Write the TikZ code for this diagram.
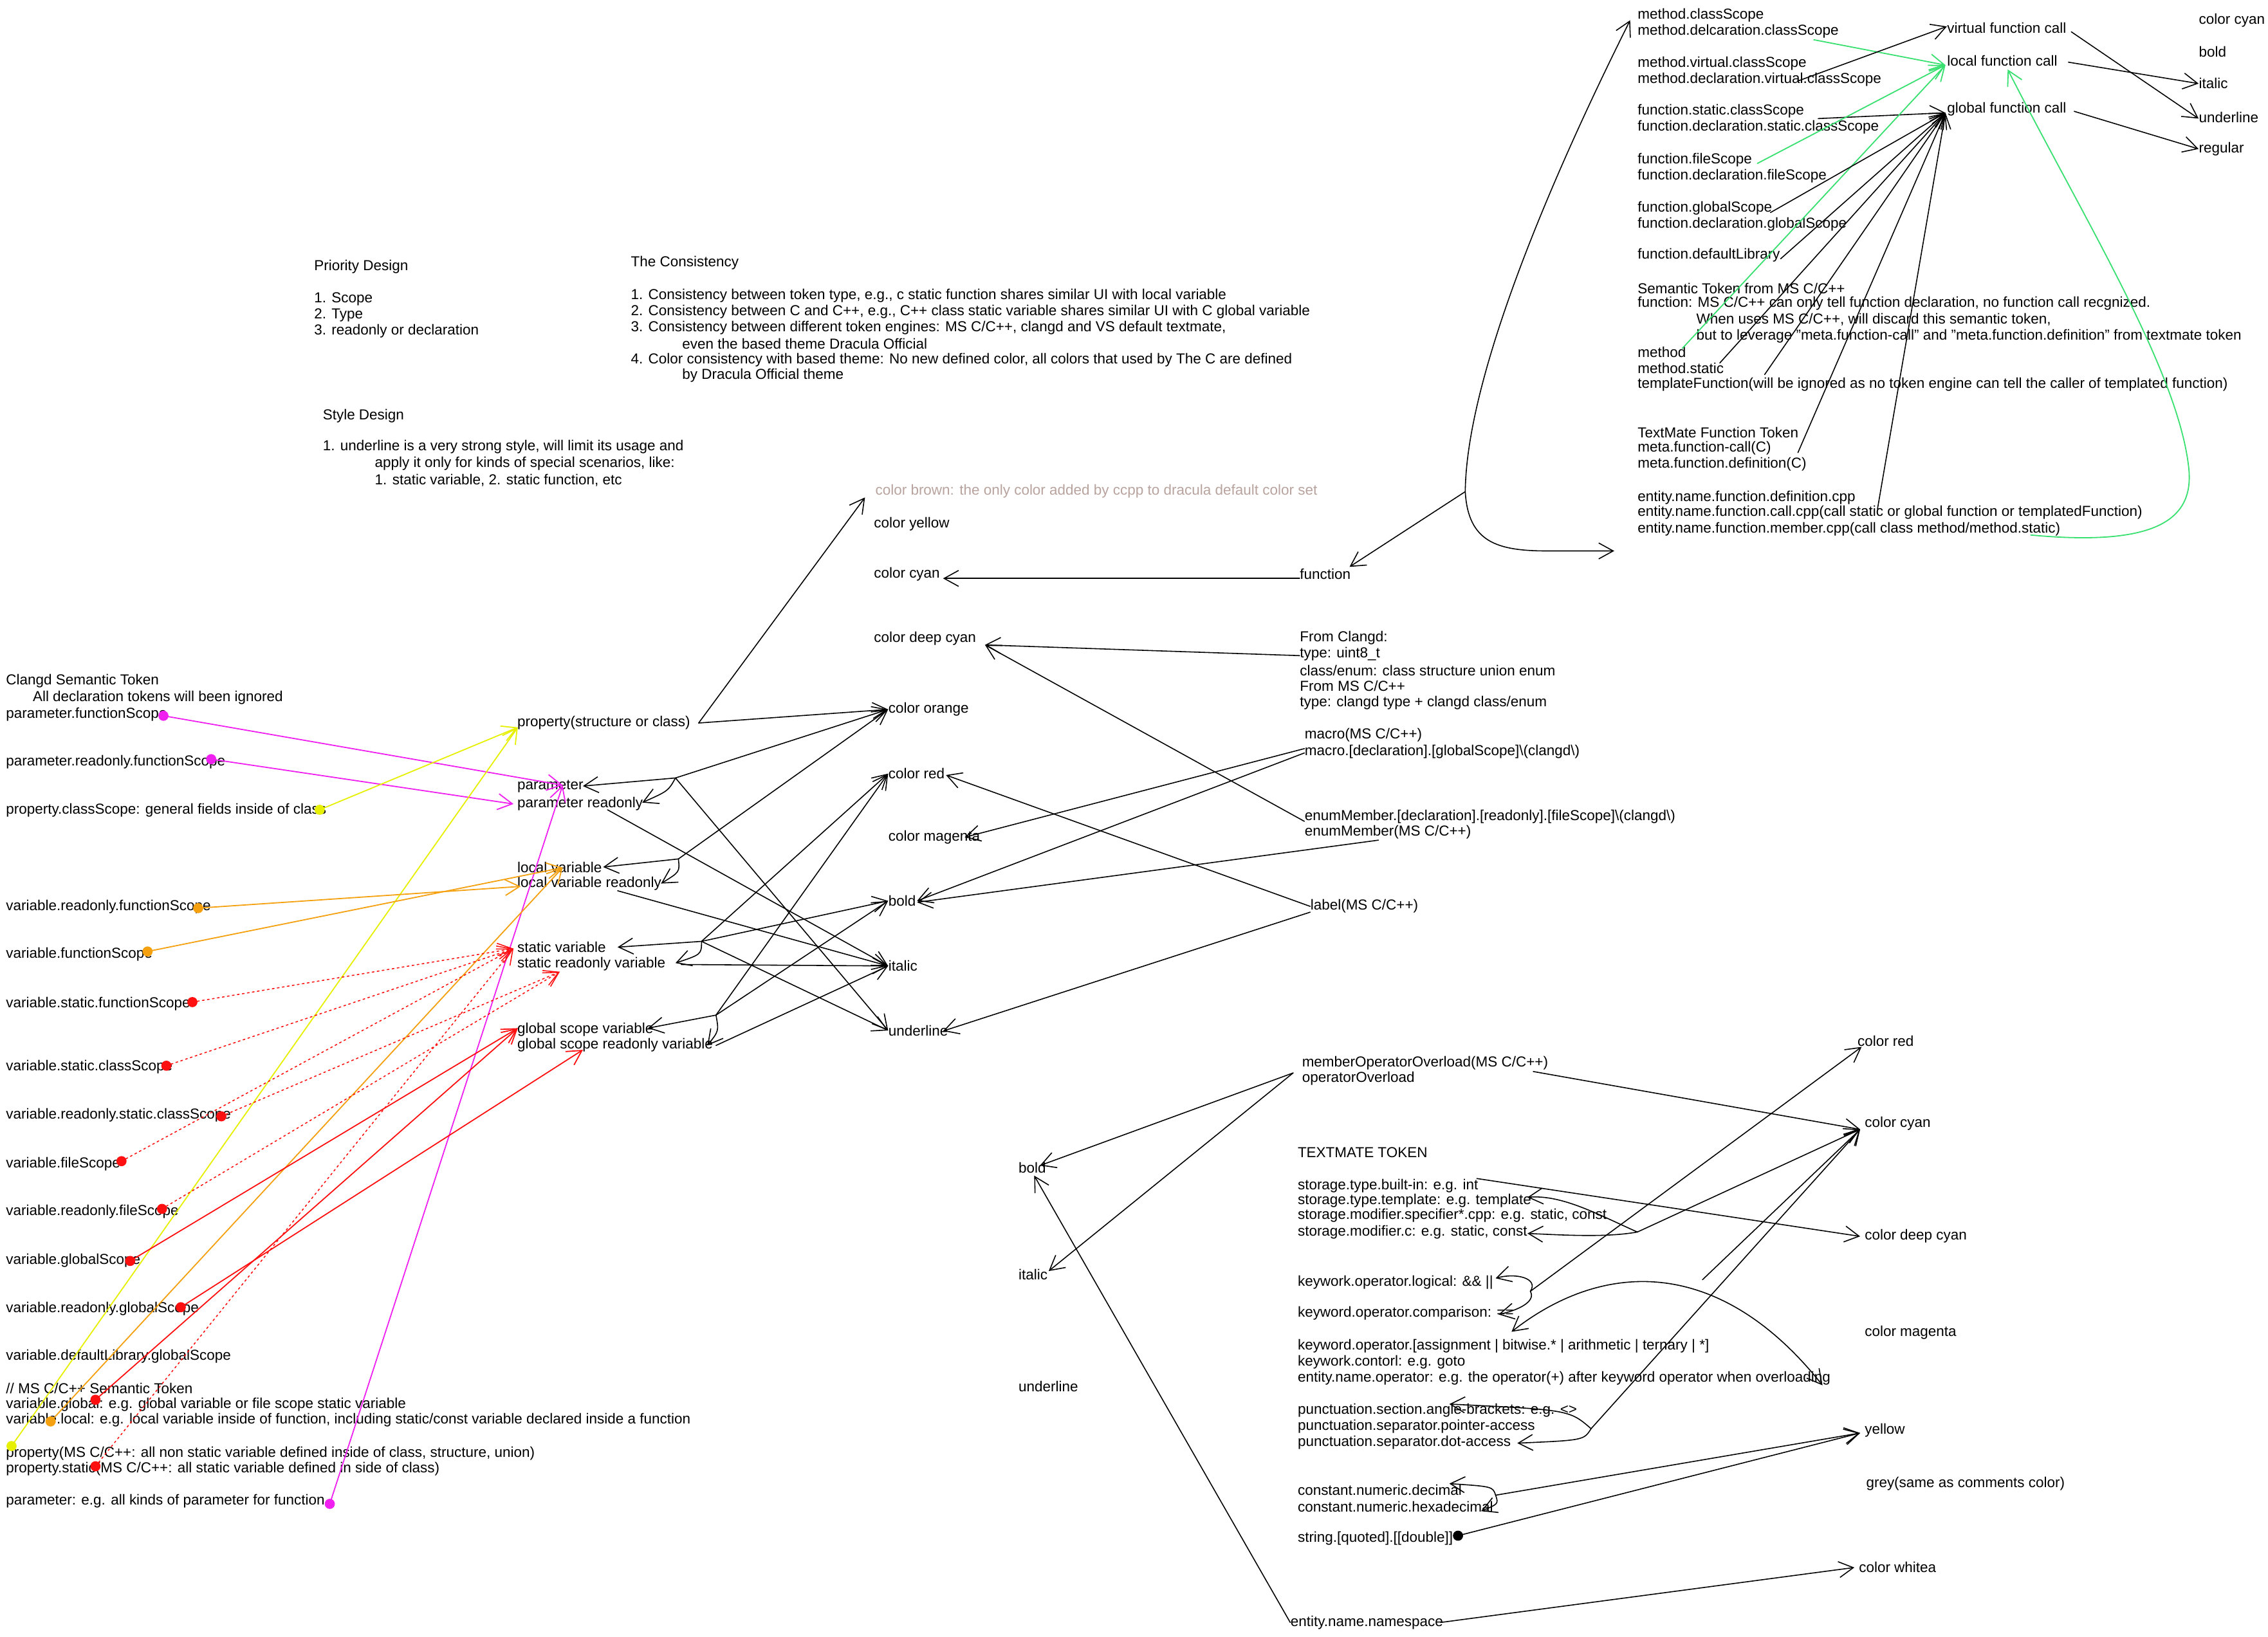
\documentclass[tikz,border=0pt]{standalone}
\usepackage{fontspec}
\setmainfont{Liberation Sans}
\usetikzlibrary{arrows.meta}
\definecolor{xmag}{HTML}{F020F0}
\definecolor{xyel}{HTML}{E6F000}
\definecolor{xorg}{HTML}{F5A00F}
\definecolor{xred}{HTML}{FF1010}
\definecolor{xgrn}{HTML}{38E070}
\definecolor{xbrn}{HTML}{B8A39E}
\tikzset{
  txt/.style={anchor=west, inner sep=0pt, font=\fontsize{10}{11.1}\selectfont},
  ln/.style={line width=0.7pt, line cap=round},
  arr/.style={ln, -{Straight Barb[length=10pt,width=11pt]}},
  arrb/.style={ln, {Straight Barb[length=10pt,width=11pt]}-{Straight Barb[length=10pt,width=11pt]}},
  carr/.style={arr, draw=#1, line width=0.8pt},
  rdot/.style={arr, draw=xred, dash pattern=on 1.3pt off 2.2pt},
  dotn/.style={circle, inner sep=0pt, minimum size=7pt, fill=#1},
}
\begin{document}
\begin{tikzpicture}[x=1pt,y=-1pt]
\fill[white] (0,0) rectangle (1568,1132);
\useasboundingbox (0,0) rectangle (1568,1132);

% ---------------- top-left notes
\node[txt] (pd)  at (217,184.5) {Priority Design};
\node[txt] (pd1) at (217,207) {1. Scope};
\node[txt] (pd2) at (217,218) {2. Type};
\node[txt] (pd3) at (217,229) {3. readonly or declaration};
\node[txt] (tc)  at (436,182) {The Consistency};
\node[txt] (tc1) at (436,204.6) {1. Consistency between token type, e.g., c static function shares similar UI with local variable};
\node[txt] (tc2) at (436,215.5) {2. Consistency between C and C++, e.g., C++ class static variable shares similar UI with C global variable};
\node[txt] (tc3) at (436,226.6) {3. Consistency between different token engines: MS C/C++, clangd and VS default textmate,};
\node[txt] (tc4) at (471.5,237.6) {even the based theme Dracula Official};
\node[txt] (tc5) at (436,248.8) {4. Color consistency with based theme: No new defined color, all colors that used by The C are defined};
\node[txt] (tc6) at (471.5,259.8) {by Dracula Official theme};
\node[txt] (sd)  at (223,287.6) {Style Design};
\node[txt] (sd1) at (223,309) {1. underline is a very strong style, will limit its usage and};
\node[txt] (sd2) at (259,320.6) {apply it only for kinds of special scenarios, like:};
\node[txt] (sd3) at (259,332) {1. static variable, 2. static function, etc};
\node[txt, text=xbrn] (brown) at (605,339.5) {color brown: the only color added by ccpp to dracula default color set};

% ---------------- colour column
\node[txt] (cyel)    at (604,362.5) {color yellow};
\node[txt] (ccyan)   at (604,397) {color cyan};
\node[txt] (cdcyan)  at (604,441.5) {color deep cyan};
\node[txt] (corange) at (614,490.6) {color orange};
\node[txt] (cred)    at (614,535) {color red};
\node[txt] (cmag)    at (614,579) {color magenta};
\node[txt] (cbold)   at (614,623) {bold};
\node[txt] (citalic) at (614,668) {italic};
\node[txt] (cunder)  at (614,712.6) {underline};

% ---------------- middle categories
\node[txt] (prop)  at (357.5,500) {property(structure or class)};
\node[txt] (par)   at (357.5,543.6) {parameter};
\node[txt] (parro) at (357.5,555.7) {parameter readonly};
\node[txt] (lv)    at (357.5,599.6) {local variable};
\node[txt] (lvro)  at (357.5,611) {local variable readonly};
\node[txt] (sv)    at (357.5,655) {static variable};
\node[txt] (svro)  at (357.5,666.8) {static readonly variable};
\node[txt] (gv)    at (357.5,711.8) {global scope variable};
\node[txt] (gvro)  at (357.5,722.5) {global scope readonly variable};

% ---------------- left tokens
\node[txt] (cl0) at (4,471) {Clangd Semantic Token};
\node[txt] (cl1) at (22.5,482.6) {All declaration tokens will been ignored};
\node[txt] (l1)  at (4,494) {parameter.functionScope};
\node[txt] (l2)  at (4,527) {parameter.readonly.functionScope};
\node[txt] (l3)  at (4,560.5) {property.classScope: general fields inside of class};
\node[txt] (l4)  at (4,627) {variable.readonly.functionScope};
\node[txt] (l5)  at (4,660) {variable.functionScope};
\node[txt] (l6)  at (4,694) {variable.static.functionScope};
\node[txt] (l7)  at (4,737.6) {variable.static.classScope};
\node[txt] (l8)  at (4,771) {variable.readonly.static.classScope};
\node[txt] (l9)  at (4,805) {variable.fileScope};
\node[txt] (l10) at (4,838) {variable.readonly.fileScope};
\node[txt] (l11) at (4,871.5) {variable.globalScope};
\node[txt] (l12) at (4,905) {variable.readonly.globalScope};
\node[txt] (l13) at (4,938) {variable.defaultLibrary.globalScope};
\node[txt] (l14) at (4,960) {// MS C/C++ Semantic Token};
\node[txt] (l15) at (4,971.5) {variable.global: e.g. global variable or file scope static variable};
\node[txt] (l16) at (4,982) {variable.local: e.g. local variable inside of function, including static/const variable declared inside a function};
\node[txt] (l17) at (4,1005) {property(MS C/C++: all non static variable defined inside of class, structure, union)};
\node[txt] (l18) at (4,1016) {property.static(MS C/C++: all static variable defined in side of class)};
\node[txt] (l19) at (4,1038) {parameter: e.g. all kinds of parameter for function};

% ---------------- right-middle tokens
\node[txt] (fn)  at (898.5,397) {function};
\node[txt] (fc1) at (898.5,441) {From Clangd:};
\node[txt] (fc2) at (898.5,452.4) {type: uint8\_t};
\node[txt] (fc3) at (898.5,463.7) {class/enum: class structure union enum};
\node[txt] (fc4) at (898.5,474.5) {From MS C/C++};
\node[txt] (fc5) at (898.5,486) {type: clangd type + clangd class/enum};
\node[txt] (mac1) at (901.8,508.4) {macro(MS C/C++)};
\node[txt] (mac2) at (901.8,519.7) {macro.[declaration].[globalScope]\textbackslash(clangd\textbackslash)};
\node[txt] (en1) at (901.8,565) {enumMember.[declaration].[readonly].[fileScope]\textbackslash(clangd\textbackslash)};
\node[txt] (en2) at (901.8,575.6) {enumMember(MS C/C++)};
\node[txt] (lab) at (905.8,626.8) {label(MS C/C++)};
\node[txt] (mo1) at (900,735) {memberOperatorOverload(MS C/C++)};
\node[txt] (mo2) at (900,746) {operatorOverload};

% ---------------- top-right function tokens
\node[txt] (rt1)  at (1132,10.4) {method.classScope};
\node[txt] (rt2)  at (1132,21.5) {method.delcaration.classScope};
\node[txt] (rt3)  at (1132,43.8) {method.virtual.classScope};
\node[txt] (rt4)  at (1132,54.9) {method.declaration.virtual.classScope};
\node[txt] (rt5)  at (1132,77) {function.static.classScope};
\node[txt] (rt6)  at (1132,88) {function.declaration.static.classScope};
\node[txt] (rt7)  at (1132,110.5) {function.fileScope};
\node[txt] (rt8)  at (1132,121.6) {function.declaration.fileScope};
\node[txt] (rt9)  at (1132,143.8) {function.globalScope};
\node[txt] (rt10) at (1132,155) {function.declaration.globalScope};
\node[txt] (rt11) at (1132,176.5) {function.defaultLibrary};
\node[txt] (rt12) at (1132,199.4) {Semantic Token from MS C/C++};
\node[txt] (rt13) at (1132,209.9) {function: MS C/C++ can only tell function declaration, no function call recgnized.};
\node[txt] (rt14) at (1172.6,221) {When uses MS C/C++, will discard this semantic token,};
\node[txt] (rt15) at (1172.6,232.5) {but to leverage "meta.function-call" and "meta.function.definition" from textmate token};
\node[txt] (rt16) at (1132,243.6) {method};
\node[txt] (rt17) at (1132,254.8) {method.static};
\node[txt] (rt18) at (1132,266) {templateFunction(will be ignored as no token engine can tell the caller of templated function)};
\node[txt] (rt19) at (1132,299.3) {TextMate Function Token};
\node[txt] (rt20) at (1132,310) {meta.function-call(C)};
\node[txt] (rt21) at (1132,321) {meta.function.definition(C)};
\node[txt] (rt22) at (1132,344) {entity.name.function.definition.cpp};
\node[txt] (rt23) at (1132,354.6) {entity.name.function.call.cpp(call static or global function or templatedFunction)};
\node[txt] (rt24) at (1132,366) {entity.name.function.member.cpp(call class method/method.static)};
\node[txt] (vfc) at (1346,19.3) {virtual function call};
\node[txt] (lfc) at (1346,42) {local function call};
\node[txt] (gfc) at (1346,75.6) {global function call};
\node[txt] (r1) at (1520,14) {color cyan};
\node[txt] (r2) at (1520,35.6) {bold};
\node[txt] (r3) at (1520,57.8) {italic};
\node[txt] (r4) at (1520,81) {underline};
\node[txt] (r5) at (1520,103) {regular};

% ---------------- bottom textmate tokens
\node[txt] (bbold)  at (704,807.5) {bold};
\node[txt] (bital)  at (704,881.6) {italic};
\node[txt] (bunder) at (704,958.6) {underline};
\node[txt] (tt) at (897,797) {TEXTMATE TOKEN};
\node[txt] (s1) at (897,820) {storage.type.built-in: e.g. int};
\node[txt] (s2) at (897,830.5) {storage.type.template: e.g. template};
\node[txt] (s3) at (897,840.7) {storage.modifier.specifier*.cpp: e.g. static, const};
\node[txt] (s4) at (897,852) {storage.modifier.c: e.g. static, const};
\node[txt] (k1) at (897,886.7) {keywork.operator.logical: \&\& ||};
\node[txt] (k2) at (897,908) {keyword.operator.comparison: ==};
\node[txt] (k3) at (897,931) {keyword.operator.[assignment | bitwise.* | arithmetic | ternary | *]};
\node[txt] (k4) at (897,942) {keywork.contorl: e.g. goto};
\node[txt] (k5) at (897,953) {entity.name.operator: e.g. the operator(+) after keyword operator when overloading};
\node[txt] (p1) at (897,975.4) {punctuation.section.angle-brackets: e.g. <>};
\node[txt] (p2) at (897,986.6) {punctuation.separator.pointer-access};
\node[txt] (p3) at (897,997.7) {punctuation.separator.dot-access};
\node[txt] (n1) at (897,1030.6) {constant.numeric.decimal};
\node[txt] (n2) at (897,1042) {constant.numeric.hexadecimal};
\node[txt] (str) at (897,1064) {string.[quoted].[[double]]};
\node[txt] (ns) at (892,1122) {entity.name.namespace};
\node[txt] (bcred) at (1284,720) {color red};
\node[txt] (bccyan) at (1289,777) {color cyan};
\node[txt] (bcdc) at (1289,855) {color deep cyan};
\node[txt] (bcmag) at (1289,921.6) {color magenta};
\node[txt] (byel) at (1289,989) {yellow};
\node[txt] (bgrey) at (1290,1026) {grey(same as comments color)};
\node[txt] (bwhite) at (1285,1084) {color whitea};

% ---------------- dots
\node[dotn=xmag] (d1)  at (113,495) {};
\node[dotn=xmag] (d2)  at (146,525) {};
\node[dotn=xyel] (d3)  at (221,560) {};
\node[dotn=xorg] (d4)  at (137,628) {};
\node[dotn=xorg] (d5)  at (102,658) {};
\node[dotn=xred] (d6)  at (133,693) {};
\node[dotn=xred] (d7)  at (115,737) {};
\node[dotn=xred] (d8)  at (153,772) {};
\node[dotn=xred] (d9)  at (84,803) {};
\node[dotn=xred] (d10) at (112,836) {};
\node[dotn=xred] (d11) at (90,872) {};
\node[dotn=xred] (d12) at (125,904) {};
\node[dotn=xred] (d15) at (66,968) {};
\node[dotn=xorg] (d16) at (35,983) {};
\node[dotn=xyel] (d17) at (8,1000) {};
\node[dotn=xred] (d18) at (66,1014) {};
\node[dotn=xmag] (d19) at (228,1040) {};
\node[dotn=black] (dstr) at (1008,1062) {};

% ---------------- coordinates
\coordinate (tPar)  at (389,543);
\coordinate (tParR) at (355,556);
\coordinate (tProp) at (358,503);
\coordinate (tLvR)  at (360,613);
\coordinate (tLv)   at (389,600);
\coordinate (tSv)   at (355,656);
\coordinate (tSvR)  at (387,672);
\coordinate (tGv)   at (358,711);
\coordinate (tGvR)  at (403,726);
\coordinate (tYel)  at (598,344);
\coordinate (J1) at (467,538);
\coordinate (J2) at (469,594);
\coordinate (J3) at (485,651);
\coordinate (J4) at (495,702);
\coordinate (J5) at (1013,340);
\coordinate (J6) at (1132,852);
\coordinate (J7) at (1058,893);
\coordinate (J9) at (1100,988);
\coordinate (J10) at (1034,1034);
\coordinate (Jmo) at (894,742);
\coordinate (tMeth) at (1127,14);
\coordinate (tEnt) at (1116,381);
\coordinate (tDC) at (681,446);
\coordinate (tMag) at (667,579);
\coordinate (tG) at (1345,78);
\coordinate (tL) at (1345,45);
\coordinate (tC) at (1286,781);
\coordinate (tR) at (1287,724);
\coordinate (tY) at (1286,991);
\coordinate (tBB) at (715,813);

% ---------------- coloured connectors (left)
\draw[carr=xmag] (d1.center) -- (tPar);
\draw[carr=xmag] (d2.center) -- (tParR);
\draw[carr=xmag] (d19.center) -- (tPar);
\draw[carr=xyel] (d3.center) -- (tProp);
\draw[carr=xyel] (d17.center) -- (tProp);
\draw[carr=xorg] (d4.center) -- (tLvR);
\draw[carr=xorg] (d5.center) -- (tLv);
\draw[carr=xorg] (d16.center) -- (tLv);
\draw[rdot] (d6.center) -- (tSv);
\draw[rdot] (d7.center) -- (tSv);
\draw[rdot] (d8.center) -- (tSvR);
\draw[rdot] (d9.center) -- (tSv);
\draw[rdot] (d10.center) -- (tSvR);
\draw[rdot] (d18.center) -- (tSv);
\draw[carr=xred] (d11.center) -- (tGv);
\draw[carr=xred] (d15.center) -- (tGv);
\draw[carr=xred] (d12.center) -- (tGvR);

% ---------------- middle black cluster
\draw[arr] (483,500) -- (tYel);
\draw[arr] (483,500) -- (corange.west);
\draw[arr] (J1) -- (corange.west);
\draw[arr] (J1) -- (403,543.6);
\draw[arr] (J1) .. controls (462,547) .. (444,555);
\draw[arr] (J1) -- (cunder.west);
\draw[arr] (420,560) -- (citalic.west);
\draw[arr] (J2) -- (corange.west);
\draw[arr] (J2) -- (417,599.6);
\draw[arr] (J2) .. controls (470,603) .. (457,611);
\draw[arr] (427,616) -- (citalic.west);
\draw[arr] (J3) -- (cred.west);
\draw[arr] (J3) -- (cbold.west);
\draw[arr] (J3) -- (cunder.west);
\draw[arr] (J3) -- (427,655);
\draw[arr] (J3) .. controls (485,660) .. (467,666);
\draw[arr] (471,667) -- (citalic.west);
\draw[arr] (J4) -- (cred.west);
\draw[arr] (J4) -- (cbold.west);
\draw[arr] (J4) -- (448,711);
\draw[arr] (J4) .. controls (497,713) .. (489,723);
\draw[arr] (495,723) -- (citalic.west);

% ---------------- right-middle
\draw[arr] ([yshift=-3pt]fn.west) -- (652,400);
\draw[arr] (J5) -- (933,392);
\draw[arr] (J5) .. controls (1014,250) and (1088,92) .. (tMeth);
\draw[arr] (J5) .. controls (1015,375) and (1035,381) .. (1070,381) -- (tEnt);
\draw[arr] ([yshift=-1pt]fc2.west) -- (tDC);
\draw[arr] ([yshift=-3pt]en1.west) -- (tDC);
\draw[arr] ([yshift=2pt]mac2.west) -- (tMag);
\draw[arr] ([yshift=-1pt]mac2.west) -- (634,623);
\draw[arr] (953,581) -- (634,624);
\draw[arr] (lab.west) -- (654,536);
\draw[arr] ([yshift=-4pt]lab.west) -- (652,713);

% ---------------- top-right
\draw[carr=xgrn] (1254,27.5) -- (tL);
\draw[arr] (1243,56) -- ([yshift=1pt]vfc.west);
\draw[arr] (1257,82) -- (tG);
\draw[carr=xgrn] (1215,113) -- (tL);
\draw[carr=xgrn] (1163,241) -- (tL);
\draw[arr] (1224,147) -- (tG);
\draw[arr] (1231,179) -- (tG);
\draw[arr] (1189,251) -- (tG);
\draw[arr] (1220,259) -- (tG);
\draw[arr] (1243,313) -- (tG);
\draw[arr] (1298,352) -- (tG);
\draw[carr=xgrn] (1404,370) .. controls (1490,378) and (1518,360) .. (1513,322) .. controls (1505,255) and (1440,150) .. (1388,48);
\draw[arr] (1432,22) -- ([yshift=-1pt]r4.west);
\draw[arr] (1430,43) -- (r3.west);
\draw[arr] (1434,77) -- (r5.west);

% ---------------- bottom
\draw[arr] (Jmo) -- (719,806);
\draw[arr] (Jmo) -- (725,879);
\draw[arr] (1060,741) -- (tC);
\draw[arr] (1021,815) -- ([xshift=-3pt]bcdc.west);
\draw[arr] (J6) -- (tC);
\draw[arr] (J6) .. controls (1105,840) and (1080,826) .. (1056,828);
\draw[arr] (J6) .. controls (1110,856) and (1080,854) .. (1056,853);
\draw[arr] (J7) -- (tR);
\draw[arr] (J7) .. controls (1064,884) and (1048,880) .. (1034,884);
\draw[arr] (J7) .. controls (1062,900) and (1050,906) .. (1036,909);
\draw[arrb] (1045,921) .. controls (1110,870) and (1190,870) .. (1260,958);
\draw[arr] (1177,885) -- (tC);
\draw[arr] (J9) -- (tC);
\draw[arr] (J9) .. controls (1085,975) .. (1002,971);
\draw[arr] (J9) .. controls (1095,996) .. (1049,998);
\draw[arr] (J10) -- (tY);
\draw[arr] (J10) .. controls (1032,1028) .. (1002,1026);
\draw[arr] (J10) .. controls (1036,1040) .. (1024,1045);
\draw[arr] (dstr.center) -- (tY);
\draw[arr] (996,1122) -- ([xshift=-3pt]bwhite.west);
\draw[arr] (ns.west) -- (tBB);
\end{tikzpicture}
\end{document}
